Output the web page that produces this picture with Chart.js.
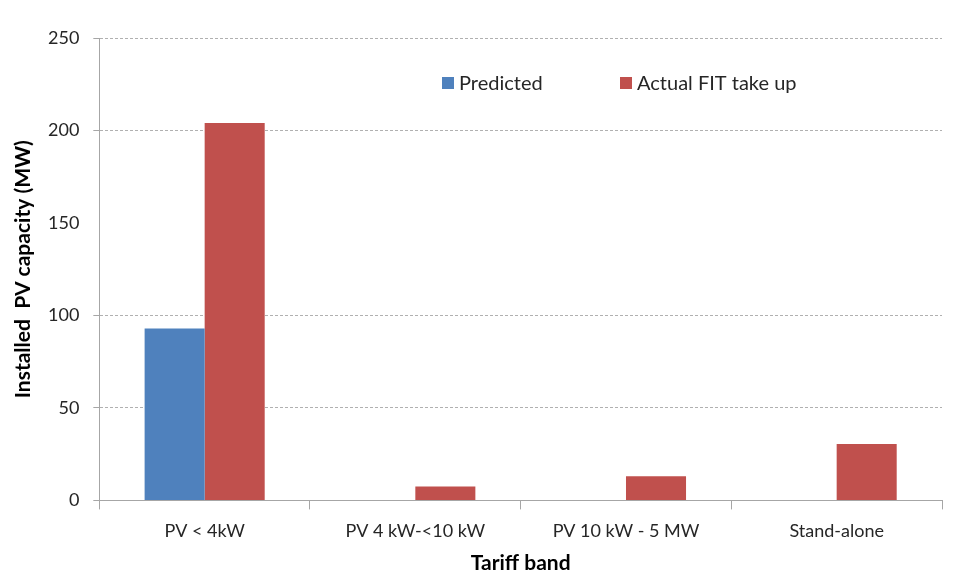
<!DOCTYPE html>
<html><head><meta charset="utf-8">
<script src="https://cdn.jsdelivr.net/npm/chart.js@4/dist/chart.umd.min.js"></script>
<style>html,body{margin:0;padding:0;background:#fff}#wrap{width:962px;height:585px}</style>
</head><body><div id="wrap"><canvas id="c" width="962" height="585"></canvas></div>
<script>
const categories = ["PV < 4kW", "PV 4 kW-<10 kW", "PV 10 kW - 5 MW", "Stand-alone"];
const predicted = [93, 0, 0, 0];
const actual = [204, 7.5, 13, 30.5];
const yTicks = [0, 50, 100, 150, 200, 250];
const seriesNames = ["Predicted", "Actual FIT take up"];
const colors = ["#4f81bd", "#c0504d"];
const FONT = "Lato, 'Open Sans', sans-serif";

const legendPlugin = {
  id: 'insideLegend',
  afterDraw(chart) {
    const ctx = chart.ctx;
    const pos = [[442, 77], [620, 77]];
    ctx.save();
    ctx.font = "20px " + FONT;
    ctx.textBaseline = "middle";
    chart.data.datasets.forEach((ds, i) => {
      ctx.fillStyle = ds.backgroundColor;
      ctx.fillRect(pos[i][0], pos[i][1], 12, 12);
      ctx.fillStyle = "#262626";
      ctx.fillText(ds.label, pos[i][0] + 17, pos[i][1] + 7);
    });
    ctx.restore();
  }
};

const hide150 = (c, col) => (c.index === 3) ? 'rgba(0,0,0,0)' : col;

new Chart(document.getElementById('c'), {
  type: 'bar',
  data: {
    labels: categories,
    datasets: [
      { label: seriesNames[0], data: predicted, backgroundColor: colors[0] },
      { label: seriesNames[1], data: actual, backgroundColor: colors[1] }
    ]
  },
  options: {
    responsive: false,
    animation: false,
    layout: { padding: { left: 13, right: 20, top: 38, bottom: 11 } },
    datasets: { bar: { categoryPercentage: 0.57, barPercentage: 1.0 } },
    plugins: { legend: { display: false }, tooltip: { enabled: false } },
    scales: {
      x: {
        grid: { offset: true, drawOnChartArea: false, color: '#a6a6a6', tickLength: 9 },
        border: { color: '#a6a6a6', width: 1 },
        ticks: { color: '#262626', font: { family: FONT, size: 18 }, padding: 11 },
        title: { display: true, text: 'Tariff band', color: '#000', font: { family: FONT, size: 21, weight: 'bold', lineHeight: 1.0 }, padding: { top: 0, bottom: 0 } }
      },
      y: {
        min: 0, max: 250,
        afterBuildTicks: (axis) => { axis.ticks = yTicks.map(v => ({ value: v })); },
        grid: {
          color: (c) => (c.index === 0) ? 'rgba(0,0,0,0)' : hide150(c, '#b0b0b0'),
          tickColor: (c) => hide150(c, '#a6a6a6'),
          tickBorderDash: [],
          tickLength: 6
        },
        border: { color: '#a6a6a6', width: 1, dash: [3, 2] },
        ticks: { color: '#262626', font: { family: FONT, size: 18 }, padding: 14 },
        title: { display: true, text: 'Installed  PV capacity (MW)', color: '#000', font: { family: FONT, size: 21, weight: 'bold', lineHeight: 1.0 }, padding: { top: 0, bottom: 0 } }
      }
    }
  },
  plugins: [legendPlugin]
});
</script></body></html>
